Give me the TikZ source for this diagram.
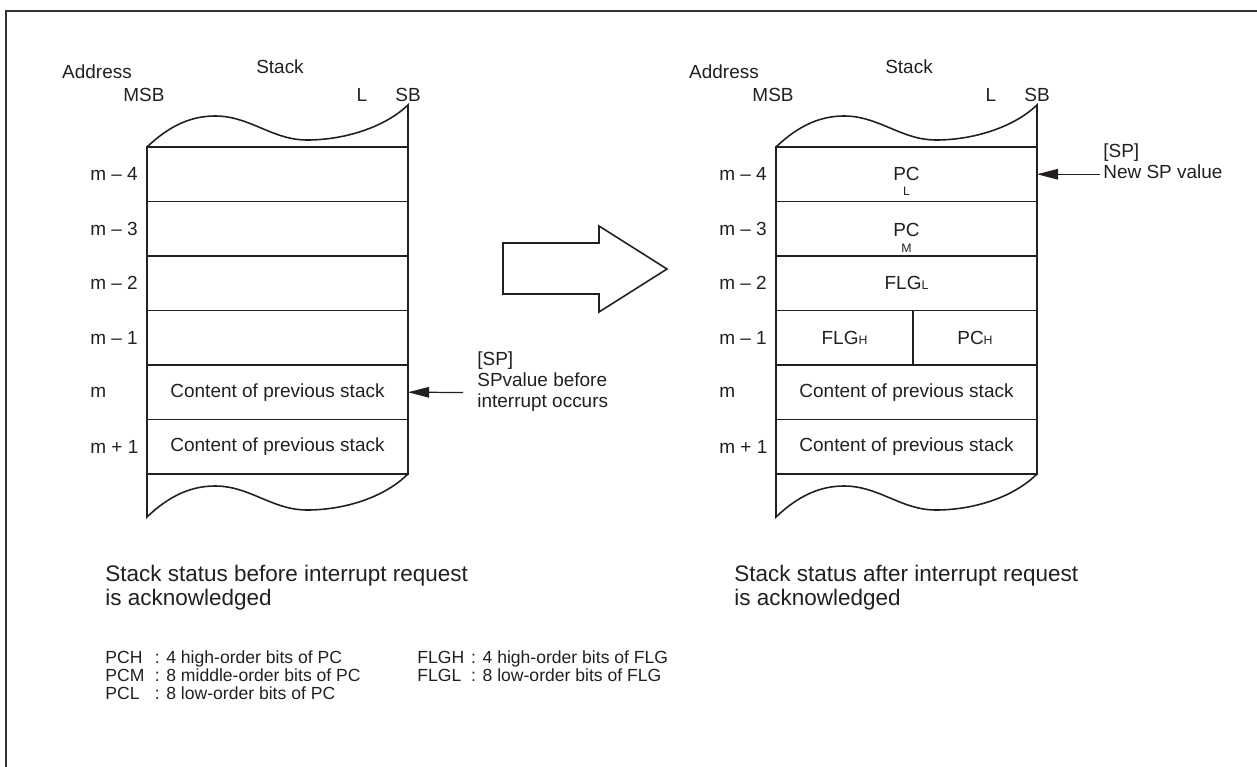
\documentclass[tikz,border=0pt]{standalone}
\usepackage{fontspec}
\setmainfont{Liberation Sans}
\usepackage{tikz}
\usetikzlibrary{arrows.meta,positioning,calc}
\definecolor{stkink}{RGB}{35,31,32}
\newcommand{\smallidx}[1]{{\fontsize{7}{7}\selectfont #1}}

\begin{document}
\begin{tikzpicture}[
  x=0.02cm,y=-0.02cm,color=stkink,
  cell/.style={draw,line width=0.9pt,minimum width=5.22cm,minimum height=1.09cm,
               inner sep=0pt,outer sep=0pt,font=\fontsize{10.8}{12}\selectfont},
  wave/.style={line width=0.9pt},
  lbl/.style={font=\fontsize{10.8}{12}\selectfont,inner sep=0pt},
  idx/.style={lbl,anchor=west},
  sublbl/.style={font=\fontsize{7}{7}\selectfont,inner sep=0pt},
  note/.style={lbl,anchor=north west,align=left},
  ptr/.style={-{Triangle[length=12pt,width=6pt]},line width=0.7pt},
  stcap/.style={font=\fontsize{12.8}{13.5}\selectfont,align=left,anchor=north west,inner sep=0pt},
  keytxt/.style={font=\fontsize{10}{10.4}\selectfont,anchor=north west,inner sep=0pt},
  frame/.style={line width=1.3pt,color=black!80}
]
\useasboundingbox (0,0) rectangle (1257,767);
\draw[frame] (6,767) -- (6,11) -- (1257,11);

% stack before interrupt
\node[lbl] (addrA) at (97,72) {Address};
\node[lbl] (stkA) at (280,67) {Stack};
\node[lbl] (msbA) at (144,95) {MSB};
\node[lbl] (lA) at (362,95) {L};
\node[lbl] (sbA) at (408,95) {SB};

\node[cell] (a4) at (277.5,174.25) {};
\node[cell,below=0pt of a4] (a3) {};
\node[cell,below=0pt of a3] (a2) {};
\node[cell,below=0pt of a2] (a1) {};
\node[cell,below=0pt of a1] (a0) {Content of previous stack};
\node[cell,below=0pt of a0] (ap) {Content of previous stack};

\draw[wave] (a4.north west) .. controls (170,125) and (192,116) .. (215,116)
  .. controls (250,116) and (272,140) .. (307,140)
  .. controls (345,140) and (385,127) .. (408,105) -- (a4.north east);
\draw[wave] (ap.south west) -- (147,517) .. controls (170,495) and (192,486) .. (215,486)
  .. controls (250,486) and (272,510) .. (307,510)
  .. controls (345,510) and (385,497) .. (ap.south east);

\node[idx] (ia4) at (90,174) {m – 4};
\node[idx] (ia3) at (90,228.5) {m – 3};
\node[idx] (ia2) at (90,283) {m – 2};
\node[idx] (ia1) at (90,337.5) {m – 1};
\node[idx] (ia0) at (90,392) {m};
\node[idx] (iap) at (90,446.5) {m + 1};

\coordinate (spold) at (463,392.5);
\node[note] (spoldtxt) at (477,351) {[SP]\\SPvalue before\\interrupt occurs};
\draw[ptr] (spold) -- (a0.east);

% transition arrow
\draw[wave] (503,243) -- (599,243) -- (599,226) -- (667,269) -- (599,312)
  -- (599,294) -- (503,294) -- cycle;

% stack after interrupt
\node[lbl] (addrB) at (724,72) {Address};
\node[lbl] (stkB) at (909,67) {Stack};
\node[lbl] (msbB) at (773,95) {MSB};
\node[lbl] (lB) at (991,95) {L};
\node[lbl] (sbB) at (1037,95) {SB};

\node[cell] (b4) at (906.5,174.25) {};
\node[cell,below=0pt of b4] (b3) {};
\node[cell,below=0pt of b3] (b2) {FLG\smallidx{L}};
\node[cell,minimum width=2.74cm,anchor=north west] (b1h) at (b2.south west) {FLG\smallidx{H}};
\node[cell,minimum width=2.48cm,anchor=north west] (b1p) at (b1h.north east) {PC\smallidx{H}};
\node[cell,anchor=north west] (b0) at (b1h.south west) {Content of previous stack};
\node[cell,below=0pt of b0] (bp) {Content of previous stack};

\node[lbl] (pcl) at (b4) {PC};
\node[sublbl,below=3pt of pcl] (pcls) {L};
\node[lbl] (pcm) at ($(b3)+(0,1.5)$) {PC};
\node[sublbl,below=3.5pt of pcm] (pcms) {M};

\draw[wave] (b4.north west) .. controls (799,125) and (821,116) .. (844,116)
  .. controls (879,116) and (901,140) .. (936,140)
  .. controls (974,140) and (1014,127) .. (1037,105) -- (b4.north east);
\draw[wave] (bp.south west) -- (776,517) .. controls (799,495) and (821,486) .. (844,486)
  .. controls (879,486) and (901,510) .. (936,510)
  .. controls (974,510) and (1014,497) .. (bp.south east);

\node[idx] (ib4) at (719,174) {m – 4};
\node[idx] (ib3) at (719,228.5) {m – 3};
\node[idx] (ib2) at (719,283) {m – 2};
\node[idx] (ib1) at (719,337.5) {m – 1};
\node[idx] (ib0) at (719,392) {m};
\node[idx] (ibp) at (719,446.5) {m + 1};

\coordinate (spnew) at (1100,174.25);
\node[note] (spnewtxt) at (1103,143) {[SP]\\New SP value};
\draw[ptr] (spnew) -- (b4.east);

% captions and key
\node[stcap] (capA) at (105,565) {Stack status before interrupt request\\is acknowledged};
\node[stcap] (capB) at (734,565) {Stack status after interrupt request\\is acknowledged};

\node[keytxt] (keyPC) at (105,650) {\begin{tabular}{@{}l@{\hspace{6pt}}l@{}}
  PCH & : 4 high-order bits of PC\\
  PCM & : 8 middle-order bits of PC\\
  PCL & : 8 low-order bits of PC
\end{tabular}};
\node[keytxt] (keyFLG) at (417,650) {\begin{tabular}{@{}l@{\hspace{4pt}}l@{}}
  FLGH & : 4 high-order bits of FLG\\
  FLGL & : 8 low-order bits of FLG
\end{tabular}};
\end{tikzpicture}
\end{document}
